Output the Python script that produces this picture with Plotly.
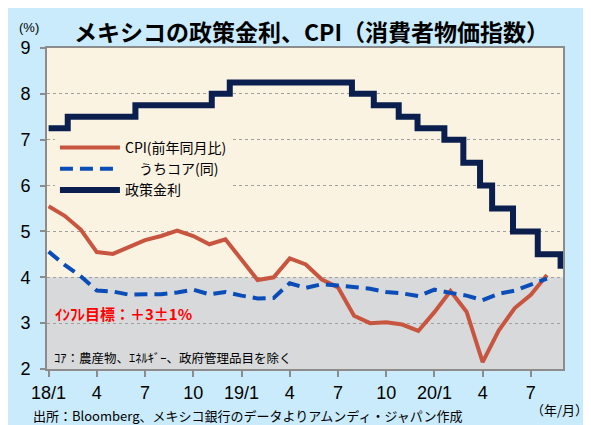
import plotly.graph_objects as go

# ---- data ----
months = list(range(32))  # 2018/1 .. 2020/8
cpi = [5.55, 5.34, 5.04, 4.55, 4.51, 4.65, 4.81, 4.90, 5.02, 4.90, 4.72, 4.83,
       4.37, 3.94, 4.00, 4.41, 4.28, 3.95, 3.78, 3.16, 3.00, 3.02, 2.97, 2.83,
       3.24, 3.70, 3.25, 2.15, 2.84, 3.33, 3.62, 4.05]
core = [4.56, 4.27, 4.02, 3.71, 3.69, 3.62, 3.63, 3.63, 3.67, 3.73, 3.63, 3.68,
        3.60, 3.54, 3.55, 3.87, 3.77, 3.85, 3.82, 3.78, 3.75, 3.68, 3.65, 3.59,
        3.73, 3.66, 3.60, 3.50, 3.64, 3.71, 3.85, 3.97]
policy_x = [0, 1.19, 5.4, 10.15, 11.27, 18.87, 20.23, 21.78, 22.95, 24.62,
            25.8, 26.84, 27.59, 28.89, 30.43, 31.85, 32.3]
policy_y = [7.25, 7.5, 7.75, 8.0, 8.25, 8.0, 7.75, 7.5, 7.25, 7.0,
            6.5, 6.0, 5.5, 5.0, 4.5, 4.25, 4.25]
tick_vals = [0, 3, 6, 9, 12, 15, 18, 21, 24, 27, 30]
tick_text = ["18/1", "4", "7", "10", "19/1", "4", "7", "10", "20/1", "4", "7"]
target_low, target_high = 2, 4

W, H = 591, 425
OFF = 8  # page body margin
L, T = 44 - OFF, 48 - OFF
R = W - (563.5 - OFF)
B = H - (369 - OFF)
PW, PH = W - L - R, H - T - B

def px(x):  # page pixel -> paper
    return (x - OFF - L) / PW

def py(y):
    return (H - B - (y - OFF)) / PH

JP = "Noto Sans CJK JP"
LAT = "Liberation Sans"

fig = go.Figure()
fig.add_trace(go.Scatter(x=months, y=cpi, mode="lines", name="CPI(前年同月比)",
                         line=dict(color="#C8553F", width=4)))
fig.add_trace(go.Scatter(x=months, y=core, mode="lines", name="　うちコア(同)",
                         line=dict(color="#0A4DB8", width=4, dash="13px,7px")))
fig.add_trace(go.Scatter(x=policy_x, y=policy_y, mode="lines", name="政策金利",
                         line=dict(color="#0B1F4F", width=6, shape="hv")))

shapes = [
    dict(type="rect", xref="paper", yref="y", x0=0, x1=1, y0=target_low, y1=target_high,
         fillcolor="#D7D9DB", line=dict(width=0), layer="below"),
]

annotations = [
    dict(text="メキシコの政策金利、CPI（消費者物価指数）", x=px(310), y=py(31), xref="paper", yref="paper",
         showarrow=False, xanchor="center", yanchor="middle",
         font=dict(family=JP, size=23, color="black", weight="bold")),
    dict(text="(%)", x=px(14), y=py(27), xref="paper", yref="paper", showarrow=False,
         xanchor="left", yanchor="middle", font=dict(family=LAT, size=13, color="black")),
    dict(text="ｲﾝﾌﾚ目標：＋3±1%", x=px(50), y=py(313), xref="paper", yref="paper", showarrow=False,
         xanchor="left", yanchor="middle", font=dict(family=JP, size=15, color="#FF0000", weight="bold")),
    dict(text="ｺｱ：農産物、ｴﾈﾙｷﾞｰ、政府管理品目を除く", x=px(49), y=py(357), xref="paper", yref="paper",
         showarrow=False, xanchor="left", yanchor="middle", font=dict(family=JP, size=12.5, color="black")),
    dict(text="（年/月）", x=px(591), y=py(409), xref="paper", yref="paper", showarrow=False,
         xanchor="right", yanchor="middle", font=dict(family=JP, size=13, color="black")),
    dict(text="出所：Bloomberg、メキシコ銀行のデータよりアムンディ・ジャパン作成", x=px(28), y=py(416),
         xref="paper", yref="paper", showarrow=False, xanchor="left", yanchor="middle",
         font=dict(family=JP, size=13, color="black")),
]

fig.update_layout(
    width=W, height=H, margin=dict(l=L, r=R, t=T, b=B),
    paper_bgcolor="#C9EBFB", plot_bgcolor="#FAF3E2",
    shapes=shapes, annotations=annotations,
    showlegend=True,
    legend=dict(x=px(52), y=py(132), xanchor="left", yanchor="top",
                bgcolor="#FAF3E2", borderwidth=0, itemwidth=60,
                font=dict(family=JP, size=14, color="black"), tracegroupgap=0),
    xaxis=dict(range=[-0.1, 32.0], tickvals=tick_vals, ticktext=tick_text,
               showgrid=False, zeroline=False, showline=True, mirror=True,
               linecolor="#8C8C8C", linewidth=2, ticks="outside", ticklen=6,
               tickwidth=2, tickcolor="#8C8C8C", ticklabelstandoff=0,
               tickfont=dict(family=LAT, size=18, color="black")),
    yaxis=dict(range=[2, 9], dtick=1, showgrid=True, gridcolor="#A0A0A0", griddash="dot",
               gridwidth=1, zeroline=False, showline=True, mirror=True,
               linecolor="#8C8C8C", linewidth=2, ticks="outside", ticklen=5,
               tickwidth=2, tickcolor="#8C8C8C", ticklabelstandoff=6,
               tickfont=dict(family=LAT, size=18, color="black")),
)

fig.write_html("out.html")
